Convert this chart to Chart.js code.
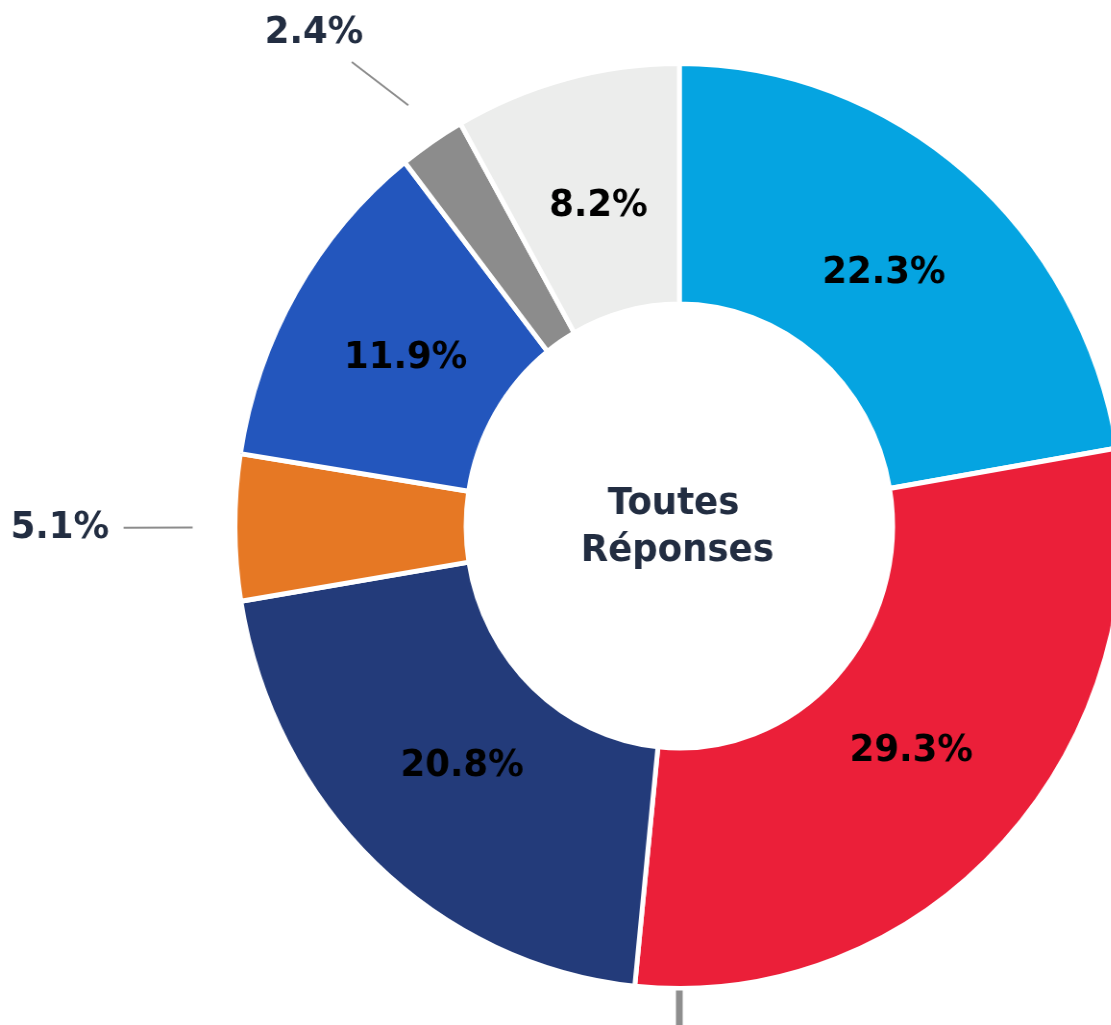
<!DOCTYPE html>
<html>
<head>
<meta charset="utf-8">
<script src="https://cdn.jsdelivr.net/npm/chart.js@4.4.1/dist/chart.umd.min.js"></script>
<style>
  html, body { margin: 0; padding: 0; background: #fff; overflow: hidden; }
  #wrap { width: 1111px; height: 1025px; overflow: hidden; position: relative; }
  #myChart { position: absolute; left: 0; top: 0; }
</style>
</head>
<body>
<div id="wrap">
  <canvas id="myChart" width="1200" height="1025" style="width:1153px;height:1025px"></canvas>
</div>
<script>
// donnees (sens horaire depuis midi)
var categories = ['Réponse A', 'Réponse B', 'Réponse C', 'Réponse D', 'Réponse E', 'Réponse F', 'Réponse G'];
var shares = [22.3, 29.3, 20.8, 5.1, 11.9, 2.4, 8.2];
var colors = ['#05A4E1', '#EB1F39', '#233B7A', '#E67824', '#2356BD', '#8C8C8C', '#ECEDEC'];
var centerLines = ['Toutes', 'Réponses'];

var FONT = '"DejaVu Sans", sans-serif';
var SLATE = '#222D41';

// libelles dans les parts, a l'exterieur pour les petites parts
var pctLabels = {
  id: 'pctLabels',
  afterDatasetsDraw: function (chart) {
    var ctx = chart.ctx;
    var arcs = chart.getDatasetMeta(0).data;
    ctx.save();
    ctx.font = 'bold 37px ' + FONT;
    ctx.textAlign = 'center';
    ctx.textBaseline = 'middle';

    arcs.forEach(function (arc, i) {
      var p = arc.getProps(['x', 'y', 'startAngle', 'endAngle', 'innerRadius', 'outerRadius'], true);
      var mid = (p.startAngle + p.endAngle) / 2;
      var cos = Math.cos(mid), sin = Math.sin(mid);
      var txt = shares[i].toFixed(1) + '%';
      var R = p.outerRadius - 2;

      if (shares[i] >= 6) {
        var r = p.innerRadius + 0.45 * (p.outerRadius - p.innerRadius);
        ctx.fillStyle = '#000';
        ctx.fillText(txt, p.x + r * cos, p.y + r * sin);
        return;
      }

      // etiquette exterieure + trait
      var tx = p.x + 1.4 * R * cos;
      var ty = p.y + 1.4 * R * sin;
      var minY = 33, maxY = chart.height - 33;
      if (ty < minY || ty > maxY) {
        var cy = Math.min(Math.max(ty, minY), maxY);
        tx += (cos < 0 ? -1 : 1) * Math.abs(cy - ty) / 2;
        ty = cy;
      }
      var x1 = p.x + 1.1 * R * cos;
      var y1 = p.y + 1.1 * R * sin;
      var dx = x1 - tx, dy = y1 - ty;
      var len = Math.sqrt(dx * dx + dy * dy);
      var ux = dx / len, uy = dy / len;
      var gap = 15;
      var halfW = ctx.measureText(txt).width / 2 + gap;
      var halfH = 14 + gap;
      var t = Math.min(Math.abs(ux) > 1e-6 ? halfW / Math.abs(ux) : 1e9,
                       Math.abs(uy) > 1e-6 ? halfH / Math.abs(uy) : 1e9);

      ctx.strokeStyle = '#8C8C8C';
      ctx.lineWidth = 2;
      ctx.beginPath();
      ctx.moveTo(x1, y1);
      ctx.lineTo(tx + ux * t, ty + uy * t);
      ctx.stroke();

      ctx.fillStyle = SLATE;
      ctx.fillText(txt, tx, ty);
    });

    // texte central
    var a0 = arcs[0];
    ctx.font = 'bold 37px ' + FONT;
    ctx.fillStyle = SLATE;
    ctx.fillText(centerLines[0], a0.x - 6, a0.y - 22);
    ctx.fillText(centerLines[1], a0.x - 2, a0.y + 25);

    // petit trait gris sous l'anneau
    ctx.strokeStyle = '#8E8E8E';
    ctx.lineWidth = 7;
    ctx.beginPath();
    ctx.moveTo(a0.x, a0.y + a0.outerRadius + 2);
    ctx.lineTo(a0.x, chart.height);
    ctx.stroke();

    ctx.restore();
  }
};

var ctx = document.getElementById('myChart').getContext('2d');
var myChart = new Chart(ctx, {
  type: 'doughnut',
  data: {
    labels: categories,
    datasets: [{
      data: shares,
      backgroundColor: colors,
      borderColor: '#ffffff',
      borderWidth: 5
    }]
  },
  options: {
    responsive: false,
    animation: false,
    cutout: '48%',
    layout: {
      padding: { left: 242, right: 28, top: 61, bottom: 34 }
    },
    plugins: {
      legend: { display: false },
      tooltip: { enabled: false }
    }
  },
  plugins: [pctLabels]
});
</script>
</body>
</html>
